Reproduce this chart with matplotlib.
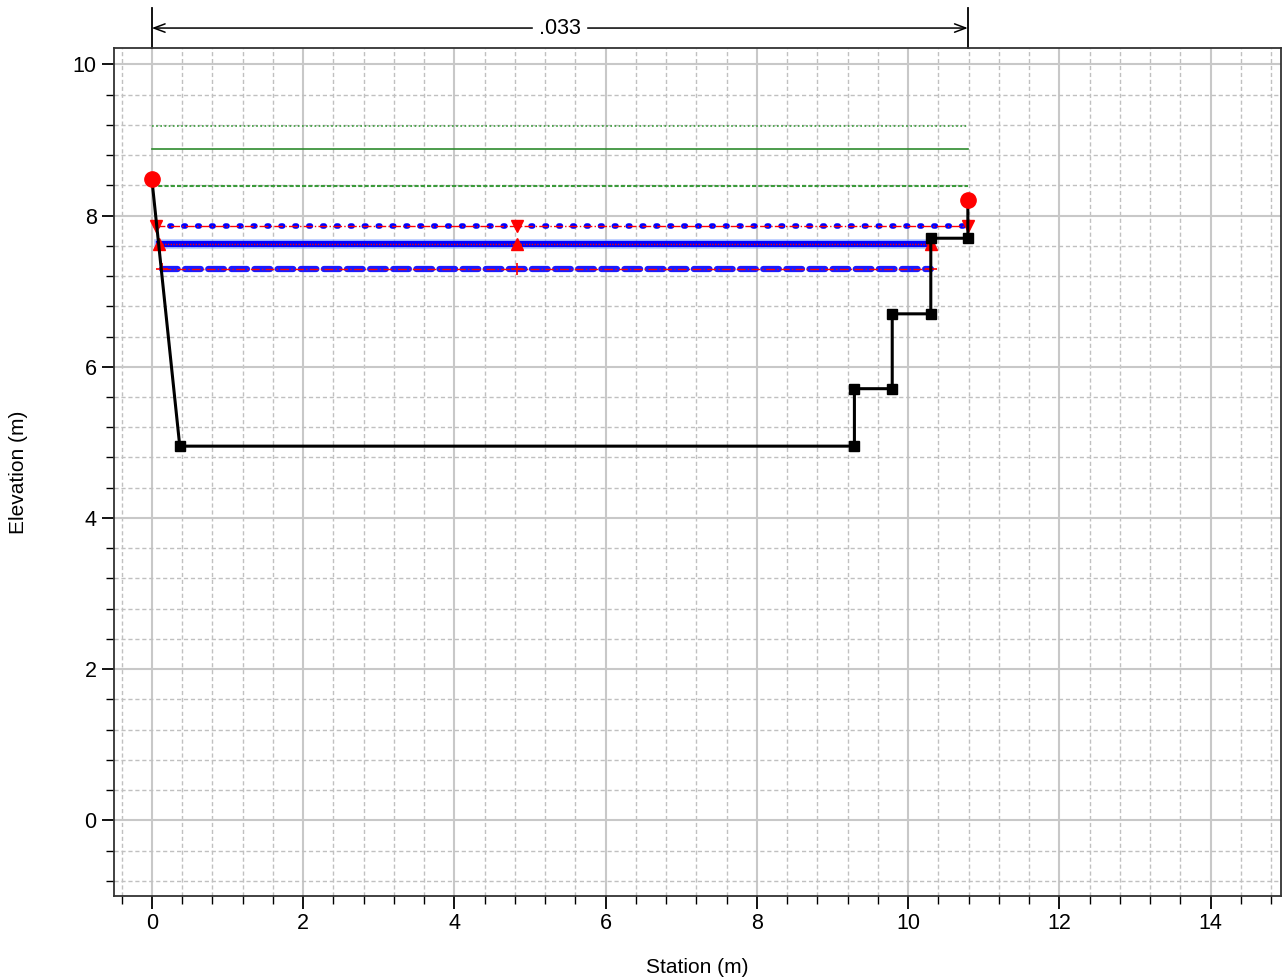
import matplotlib
matplotlib.use('Agg')
import matplotlib.pyplot as plt
from matplotlib.ticker import MultipleLocator

plt.rcParams['font.family'] = ['Liberation Sans', 'DejaVu Sans']

# ground profile
ground_x = [0.0, 0.37, 9.29, 9.29, 9.79, 9.79, 10.30, 10.30, 10.79, 10.79]
ground_y = [8.49, 4.95, 4.95, 5.71, 5.71, 6.70, 6.70, 7.70, 7.70, 8.20]
bank_x = [0.0, 10.79]
bank_y = [8.49, 8.20]

# energy lines (green)
green_x = [0.0, 10.79]
green_dotted = 9.18
green_solid = 8.88
green_dashed = 8.39

# water surfaces (blue) with their marker stations
ws_dotted_x = [0.06, 4.83, 10.79]
ws_dotted_y = 7.86
ws_solid_x = [0.09, 4.83, 10.30]
ws_solid_y = 7.62
ws_dashed_x = [0.13, 4.83, 10.30]
ws_dashed_y = 7.29

dim_x = [0.0, 10.79]
dim_label = '.033'

fig = plt.figure(figsize=(12.82, 9.77), dpi=100)
ax = fig.add_axes([0.0889, 0.0829, 0.9103, 0.8675])

# green lines
ax.plot(green_x, [green_dotted] * 2, color='#3a9a3a', lw=1.2, ls=(0, (1, 1.5)))
ax.plot(green_x, [green_solid] * 2, color='#2e8b2e', lw=1.2, ls='-')
ax.plot(green_x, [green_dashed] * 2, color='#3a9a3a', lw=1.5, ls=(0, (2, 1)))

# blue water surfaces
ax.plot(ws_dotted_x, [ws_dotted_y] * 3, color='blue', lw=4, ls=(0, (0.3, 2.2)),
        dash_capstyle='round')
ax.plot(ws_dotted_x, [ws_dotted_y] * 3, color='red', lw=1, ls='-.',
        marker='v', ms=8)
ax.plot(ws_solid_x, [ws_solid_y] * 3, color='#8aa8ff', lw=7, alpha=0.6)
ax.plot(ws_solid_x, [ws_solid_y] * 3, color='blue', lw=4.5)
ax.plot(ws_solid_x, [ws_solid_y] * 3, color='red', lw=1, ls=(0, (1, 1)),
        marker='^', ms=8)
ax.plot(ws_dashed_x, [ws_dashed_y] * 3, color='#1a1aff', lw=4.5, ls=(0, (2.5, 1.2)),
        dash_capstyle='round')
ax.plot(ws_dashed_x, [ws_dashed_y] * 3, color='red', lw=1, ls='-.',
        marker='+', ms=9, mew=1.2)

# ground
ax.plot(ground_x, ground_y, color='black', lw=2.2, zorder=5)
ax.plot(ground_x[1:], ground_y[1:], 's', color='black', ms=7, zorder=6)
ax.plot(bank_x, bank_y, 'o', color='red', ms=11, zorder=7)

ax.set_xlim(-0.5, 14.93)
ax.set_ylim(-1.0, 10.21)
ax.xaxis.set_major_locator(MultipleLocator(2))
ax.xaxis.set_minor_locator(MultipleLocator(0.4))
ax.yaxis.set_major_locator(MultipleLocator(2))
ax.yaxis.set_minor_locator(MultipleLocator(0.4))
ax.grid(which='major', color='#c8c8c8', lw=1.5, ls='-')
ax.grid(which='minor', color='#c0c0c0', lw=1, ls=(0, (3, 2)))
ax.set_axisbelow(True)
ax.tick_params(which='major', length=9, width=1.3, labelsize=15.5, direction='out')
ax.tick_params(which='minor', length=6, width=1, direction='out')
for s in ax.spines.values():
    s.set_linewidth(1.3)
    s.set_color('#333333')

ax.set_xlabel('Station (m)', fontsize=15, labelpad=17)
ax.set_ylabel('Elevation (m)', fontsize=15, labelpad=32)

# dimension line above the plot
for xv in dim_x:
    ax.plot([xv, xv], [10.21, 10.74], color='black', lw=1.3, clip_on=False)
ax.annotate('', xy=(dim_x[0], 10.48), xytext=(dim_x[1], 10.48),
            arrowprops=dict(arrowstyle='<->,head_length=0.8,head_width=0.3',
                            color='black', lw=1.1, shrinkA=0, shrinkB=0),
            annotation_clip=False)
ax.text((dim_x[0] + dim_x[1]) / 2, 10.48, dim_label, fontsize=15.5,
        ha='center', va='center', backgroundcolor='white', clip_on=False)

fig.savefig('out.png', dpi=100)
